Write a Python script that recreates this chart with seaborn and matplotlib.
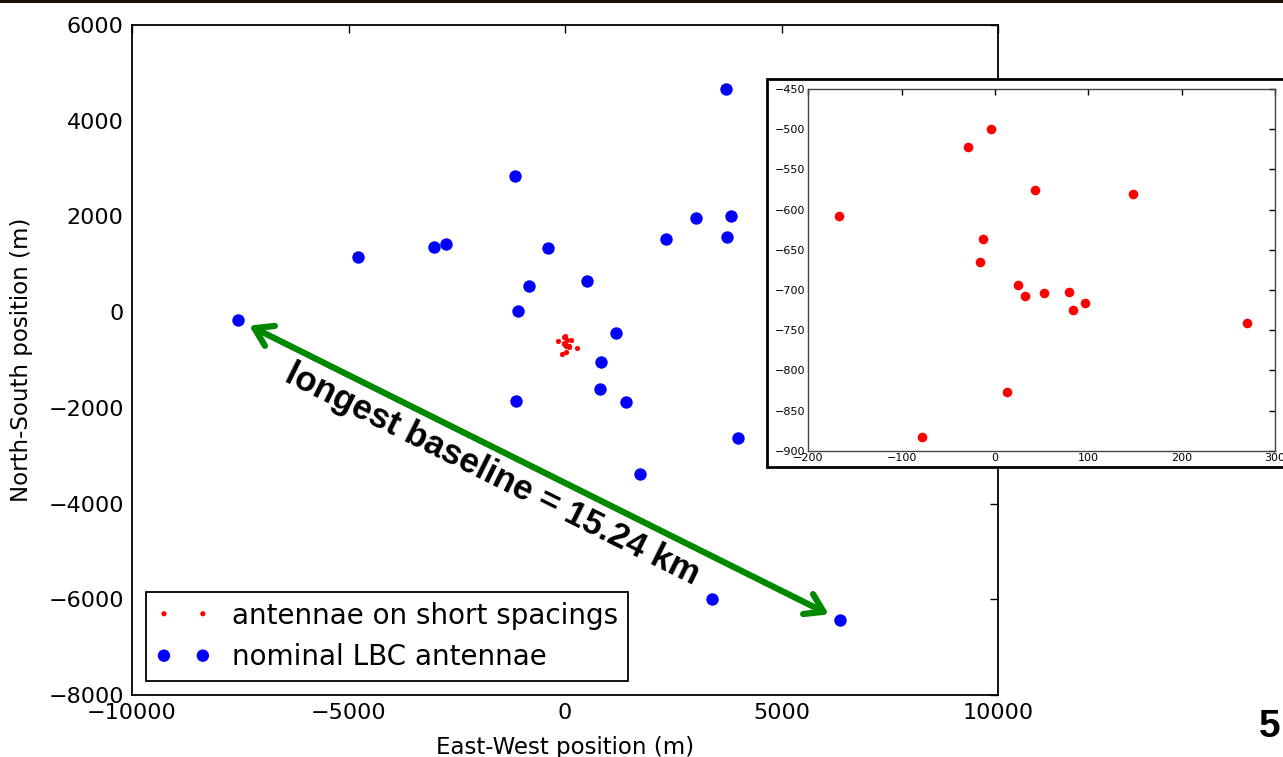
import numpy as np
import pandas as pd
import matplotlib
matplotlib.use("Agg")
import matplotlib.pyplot as plt
import seaborn as sns
from matplotlib.patches import Rectangle
from matplotlib.lines import Line2D

# ---- data (metres) ----
lbc_x = [3718, -1155, 3025, 3834, 3741, 2333, -4781, -3025, -2748, -393, 508, -831,
         -1085, -7552, 1178, 831, 810, -1132, 1409, 3995, 1732, 3395, 6351]
lbc_y = [4663, 2845, 1967, 2009, 1570, 1529, 1153, 1361, 1424, 1341, 651, 547,
         24, -164, -435, -1041, -1606, -1856, -1877, -2629, -3381, -5993, -6432]

short_x = [-167.1, -4.3, -28.9, 43.2, 147.5, -12.5, -16.1, 24.3, 32.1, 52.9, 79.3,
           83.6, 96.1, 269.6, 12.5, -78.2]
short_y = [-607.6, -499.4, -522.6, -575.7, -580.2, -636.6, -665.3, -693.5, -707.2,
           -704.2, -702.2, -725.4, -716.7, -741.2, -827.0, -883.0]

label_short = "antennae on short spacings"
label_lbc = "nominal LBC antennae"
baseline_text = "longest baseline = 15.24 km"
main_xticks = [-10000, -5000, 0, 5000, 10000]
main_yticks = [-8000, -6000, -4000, -2000, 0, 2000, 4000, 6000]
inset_xticks = [-200, -100, 0, 100, 200, 300]
inset_yticks = [-900, -850, -800, -750, -700, -650, -600, -550, -500, -450]

df_lbc = pd.DataFrame({"x": lbc_x, "y": lbc_y})
df_short = pd.DataFrame({"x": short_x, "y": short_y})

sns.set_theme(style="white")
plt.rcParams.update({
    "font.family": ["DejaVu Sans"],
    "xtick.direction": "in", "ytick.direction": "in",
    "xtick.top": True, "ytick.right": True,
    "xtick.major.size": 6, "ytick.major.size": 6,
    "xtick.major.width": 1, "ytick.major.width": 1,
    "xtick.color": "black", "ytick.color": "black",
    "axes.edgecolor": "black", "axes.linewidth": 1.3,
    "text.color": "black", "axes.labelcolor": "black",
})

W, H = 1283, 757
fig = plt.figure(figsize=(W / 100, H / 100), dpi=100)
fig.patch.set_facecolor("white")

ax = fig.add_axes([132 / W, 1 - 695 / H, (998 - 132) / W, (695 - 25) / H])
sns.scatterplot(data=df_short, x="x", y="y", ax=ax, color="red", s=14,
                linewidth=0, label=label_short, zorder=3)
sns.scatterplot(data=df_lbc, x="x", y="y", ax=ax, color="blue", s=80,
                linewidth=0, label=label_lbc, zorder=3)
ax.set_xlim(-10000, 10000)
ax.set_ylim(-8000, 6000)
ax.set_xticks(main_xticks)
ax.set_yticks(main_yticks)
ax.tick_params(labelsize=16, pad=6)
ax.set_xlabel("East-West position (m)", fontsize=16.5, labelpad=9)
ax.set_ylabel("North-South position (m)", fontsize=16.5, labelpad=11)

leg = ax.legend(loc="lower left", fontsize=20, scatterpoints=2, scatteryoffsets=[0.5],
                frameon=True, fancybox=False, framealpha=1, edgecolor="black",
                borderaxespad=0.5, handletextpad=0.75, borderpad=0.35,
                labelspacing=0.5, handlelength=2.0)
leg.get_frame().set_linewidth(1.3)

# longest baseline arrow: find the most distant pair
px = np.array(lbc_x, dtype=float)
py = np.array(lbc_y, dtype=float)
d = np.hypot(px[:, None] - px[None, :], py[:, None] - py[None, :])
i, j = np.unravel_index(np.argmax(d), d.shape)
if px[i] > px[j]:
    i, j = j, i
ax.annotate("", xy=(px[j], py[j]), xytext=(px[i], py[i]),
            arrowprops=dict(arrowstyle="<->, head_length=0.5, head_width=0.32",
                            color="#008800", lw=4.5, shrinkA=9, shrinkB=9,
                            mutation_scale=25), zorder=2)
ax.text(-1686, -3400, baseline_text, rotation=-26.5, rotation_mode="anchor",
        ha="center", va="center", fontsize=25, fontweight="bold",
        family="Liberation Sans", zorder=4)

# inset frame (figure-level)
frame = Rectangle((767 / W, 1 - 467 / H), (W - 767 + 10) / W, (467 - 79) / H,
                  transform=fig.transFigure, facecolor="white", edgecolor="black",
                  lw=2, zorder=5)
fig.add_artist(frame)

axin = fig.add_axes([808.3 / W, 1 - 450.7 / H, (1275 - 808.3) / W, (450.7 - 89) / H])
axin.set_zorder(6)
sns.scatterplot(data=df_short, x="x", y="y", ax=axin, color="red", s=48,
                linewidth=0, zorder=3, legend=False)
axin.set_xlim(-200, 300)
axin.set_ylim(-900, -450)
axin.set_xticks(inset_xticks)
axin.set_yticks(inset_yticks)
axin.tick_params(labelsize=8, length=4, pad=2)
axin.set_xlabel("")
axin.set_ylabel("")
for s in axin.spines.values():
    s.set_linewidth(1.0)
    s.set_edgecolor("#444444")

# slide decorations
fig.add_artist(Line2D([0, 1], [1 - 1 / H, 1 - 1 / H], transform=fig.transFigure,
                      color="#1a1008", lw=2.2))
fig.text(1259 / W, 1 - 737 / H, "5", fontsize=28, fontweight="bold",
         family="Liberation Sans", ha="left", va="baseline")

fig.savefig("out.png", dpi=100)
